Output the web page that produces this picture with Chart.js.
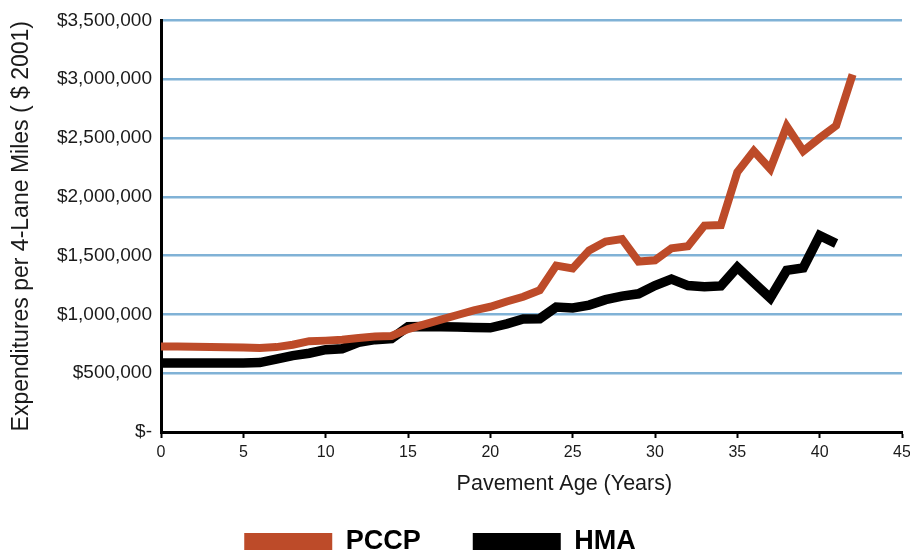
<!DOCTYPE html>
<html>
<head>
<meta charset="utf-8">
<title>Pavement expenditures</title>
<script src="https://cdn.jsdelivr.net/npm/chart.js@4/dist/chart.umd.min.js"></script>
<style>
  html, body { margin: 0; padding: 0; background: #fff; overflow: hidden; }
  #wrap { position: relative; width: 910px; height: 565px; }
</style>
</head>
<body>
<div id="wrap"><canvas id="costChart"></canvas></div>
<script>
// pavement age (years)
const ages = [0, 1, 2, 3, 4, 5, 6, 7, 8, 9, 10, 11, 12, 13, 14, 15, 16, 17, 18, 19, 20,
  21, 22, 23, 24, 25, 26, 27, 28, 29, 30, 31, 32, 33, 34, 35, 36, 37, 38, 39, 40, 41, 42];

// expenditures per 4-lane mile, $ 2001
const pccpValues = [727000, 726000, 725000, 723000, 721000, 718000, 715000, 722000, 742000, 772000,
  777000, 785000, 800000, 812000, 817000, 875000, 915000, 955000, 995000, 1035000,
  1065000, 1110000, 1150000, 1206000, 1415000, 1390000, 1544000, 1620000, 1640000, 1450000,
  1460000, 1562000, 1580000, 1755000, 1760000, 2210000, 2389000, 2236000, 2600000, 2389000,
  2500000, 2605000, 3040000];

const hmaValues = [587000, 587000, 587000, 587000, 587000, 587000, 590000, 620000, 650000, 670000,
  700000, 708000, 762000, 785000, 795000, 895000, 898000, 895000, 892000, 888000,
  886000, 920000, 961000, 963000, 1062000, 1055000, 1079000, 1125000, 1155000, 1175000,
  1245000, 1300000, 1245000, 1235000, 1242000, 1400000, 1270000, 1140000, 1375000, 1395000,
  1671000, 1603000];

const yTicks = [0, 500000, 1000000, 1500000, 2000000, 2500000, 3000000, 3500000];

const FONT = "'Liberation Sans', Arial, Helvetica, sans-serif";
const PCCP_COLOR = "#bd4b29";
const HMA_COLOR = "#000000";
const GRID_BLUE = "#80b2d6";

function toPoints(values) {
  return values.map((v, i) => ({ x: ages[i], y: v }));
}

function money(v) {
  if (v === 0) return "$-";
  return "$" + v.toLocaleString("en-US");
}

const canvas = document.getElementById("costChart");

new Chart(canvas, {
  type: "line",
  data: {
    datasets: [
      {
        label: "PCCP",
        data: toPoints(pccpValues),
        borderColor: PCCP_COLOR,
        backgroundColor: PCCP_COLOR,
        borderWidth: 8,
        pointRadius: 0,
        tension: 0,
        fill: false,
      },
      {
        label: "HMA",
        data: toPoints(hmaValues),
        borderColor: HMA_COLOR,
        backgroundColor: HMA_COLOR,
        borderWidth: 9.5,
        pointRadius: 0,
        tension: 0,
        fill: false,
      },
    ],
  },
  options: {
    responsive: true,
    maintainAspectRatio: false,
    animation: false,
    events: [],
    layout: { padding: { top: 14, right: 0, bottom: 0, left: 0 } },
    plugins: {
      tooltip: { enabled: false },
      legend: {
        position: "bottom",
        labels: {
          boxWidth: 88,
          boxHeight: 17,
          padding: 52,
          color: "#000",
          font: { family: FONT, size: 27, weight: "bold" },
          generateLabels(chart) {
            const items = Chart.defaults.plugins.legend.labels.generateLabels(chart);
            return items.map((item) => {
              item.lineWidth = 0;
              item.fillStyle = item.strokeStyle;
              // trailing spaces nudge the legend block left like the original
              if (item.text === "HMA") item.text = "HMA    ";
              return item;
            });
          },
        },
      },
    },
    scales: {
      x: {
        type: "linear",
        min: 0,
        max: 45,
        ticks: {
          stepSize: 5,
          padding: 5,
          color: "#1a1a1a",
          font: { family: FONT, size: 16 },
          maxRotation: 0,
        },
        grid: {
          drawOnChartArea: false,
          drawTicks: true,
          tickLength: 6,
          tickColor: "#000",
          tickWidth: 2,
        },
        border: { color: "#000", width: 3 },
        title: {
          display: true,
          text: "           Pavement Age (Years)",
          color: "#1a1a1a",
          font: { family: FONT, size: 21.5 },
          padding: { top: 0, bottom: -20.5 },
        },
        afterFit(scale) {
          scale.height = 44;
          // let the "45" label hang closer to the edge
          scale.paddingRight = 8;
        },
      },
      y: {
        min: 0,
        max: 3500000,
        afterBuildTicks(scale) {
          scale.ticks = yTicks.map((v) => ({ value: v }));
        },
        ticks: {
          padding: 9,
          color: "#1a1a1a",
          font: { family: FONT, size: 19 },
          callback: (v) => money(v),
        },
        grid: {
          drawTicks: false,
          lineWidth: 2.5,
          color: (ctx) => (ctx.tick && ctx.tick.value === 0 ? "rgba(0,0,0,0)" : GRID_BLUE),
        },
        border: { color: "#000", width: 3 },
        title: {
          display: true,
          text: "Expenditures per 4-Lane Miles ( $ 2001)",
          color: "#1a1a1a",
          font: { family: FONT, size: 23 },
          padding: { top: 8, bottom: 0 },
        },
        afterFit(scale) {
          scale.width = 161;
        },
      },
    },
  },
});
</script>
</body>
</html>
